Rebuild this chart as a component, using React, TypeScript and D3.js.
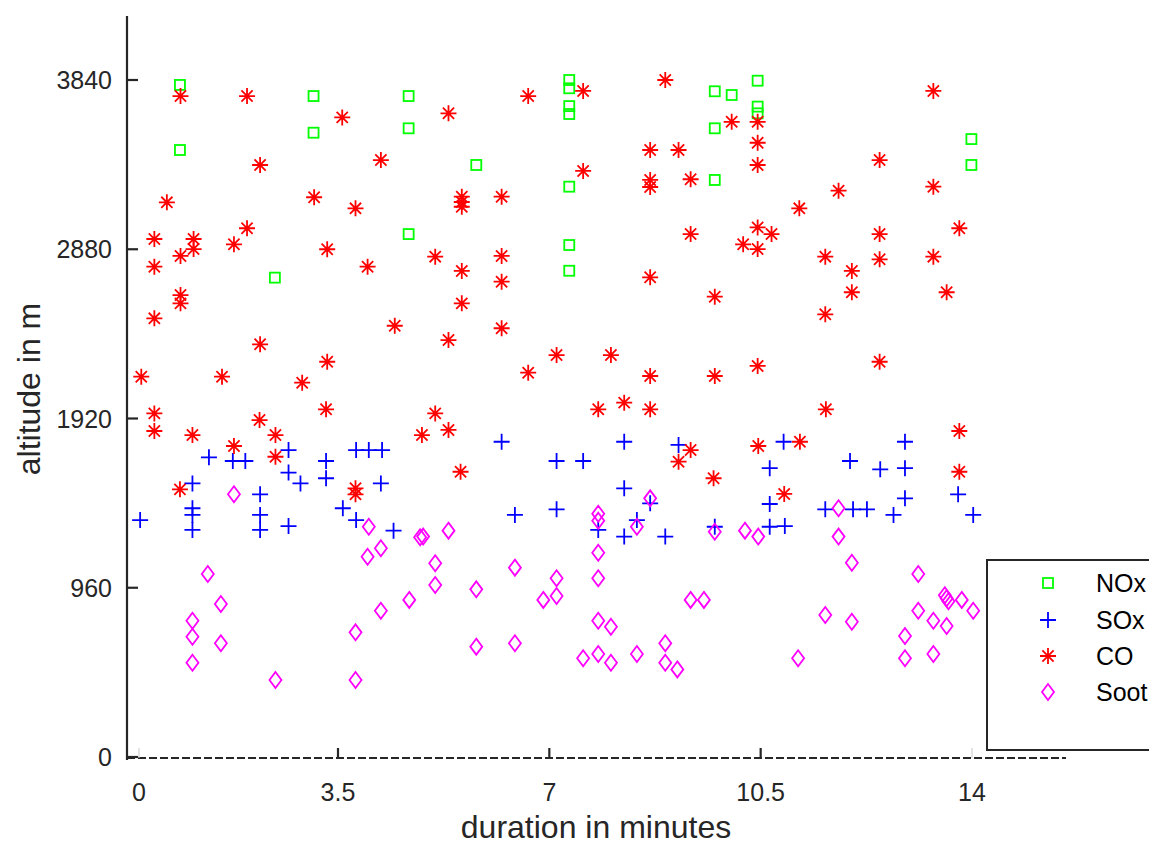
import React from "react";
import * as d3 from "d3";

const xTicks = [0, 3.5, 7, 10.5, 14];
const xTickLabels = ["0", "3.5", "7", "10.5", "14"];
const yTicks = [0, 960, 1920, 2880, 3840];
const yTickLabels = ["0", "960", "1920", "2880", "3840"];
const legendLabels = ["NOx", "SOx", "CO", "Soot"];

const noxX = [0.72, 0.72, 3.07, 3.07, 2.39, 4.67, 4.67, 4.67, 5.79, 7.33, 7.33, 7.33, 7.33, 7.33, 7.33, 7.33, 9.74, 9.74, 9.74, 10.02, 10.45, 10.45, 10.45, 13.99, 13.99];
const noxY = [3812, 3443, 3749, 3541, 2719, 3749, 3566, 2966, 3358, 3840, 3793, 3692, 3647, 3235, 2904, 2758, 3776, 3566, 3273, 3755, 3836, 3689, 3651, 3505, 3358];

const soxX = [0.02, 1.23, 0.94, 0.94, 0.94, 0.94, 1.65, 1.87, 2.13, 2.13, 2.13, 2.63, 2.63, 2.84, 2.63, 3.29, 3.29, 3.80, 4.01, 4.23, 4.21, 3.58, 3.80, 4.42, 6.21, 7.12, 7.56, 8.24, 9.14, 8.24, 8.67, 6.43, 7.12, 7.81, 8.45, 8.24, 8.92, 9.74, 10.88, 10.65, 10.65, 10.65, 10.90, 11.57, 11.98, 12.03, 12.26, 12.48, 12.70, 12.89, 12.89, 12.89, 13.77, 14.02];
const soxY = [1344, 1700, 1552, 1411, 1373, 1288, 1679, 1679, 1490, 1373, 1288, 1741, 1613, 1552, 1310, 1679, 1581, 1741, 1741, 1741, 1552, 1411, 1344, 1284, 1788, 1679, 1679, 1788, 1770, 1524, 1439, 1373, 1405, 1288, 1344, 1250, 1250, 1306, 1788, 1638, 1435, 1306, 1310, 1405, 1679, 1405, 1405, 1632, 1373, 1788, 1638, 1467, 1490, 1373];

const coX = [0.73, 1.90, 3.57, 2.13, 4.21, 0.49, 3.08, 3.79, 1.90, 0.27, 0.96, 0.96, 1.67, 0.73, 3.31, 0.27, 3.99, 0.73, 0.73, 0.27, 4.44, 2.13, 3.31, 0.04, 1.46, 2.87,
  5.33, 6.65, 7.56, 8.92, 8.67, 9.14, 7.56, 8.67, 8.67, 9.34, 5.55, 5.55, 5.55, 6.21, 9.34, 5.11, 6.21, 5.55, 6.21, 8.67, 5.55, 6.21, 5.33, 7.12, 8.02, 6.65, 8.67, 9.74, 9.74,
  13.36, 10.02, 10.45, 10.45, 10.45, 12.47, 13.36, 11.79, 11.14, 10.45, 10.68, 10.21, 10.45, 13.79, 12.47, 11.57, 12.47, 13.36, 12.01, 12.01, 13.58, 11.57, 12.47, 10.45,
  0.27, 0.27, 0.94, 2.12, 1.67, 2.40, 2.40, 3.29, 0.72, 3.79, 3.79, 4.89,
  5.11, 5.33, 5.53, 7.81, 8.24, 8.67, 9.34, 9.14, 9.72,
  11.58, 10.46, 11.15, 10.89, 13.79, 13.79];
const coY = [3749, 3749, 3628, 3358, 3386, 3146, 3175, 3112, 2999, 2938, 2938, 2881, 2908, 2842, 2880, 2781, 2781, 2620, 2573, 2488, 2446, 2341, 2242, 2157, 2157, 2123,
  3651, 3749, 3778, 3840, 3443, 3443, 3324, 3273, 3233, 3277, 3178, 3148, 3121, 3178, 2966, 2838, 2842, 2757, 2696, 2721, 2573, 2432, 2365, 2280, 2280, 2180, 2161, 2611, 2161,
  3778, 3603, 3603, 3484, 3358, 3386, 3235, 3212, 3112, 3004, 2966, 2908, 2881, 2999, 2966, 2838, 2823, 2838, 2757, 2636, 2636, 2511, 2242, 2218,
  1949, 1849, 1826, 1911, 1764, 1826, 1703, 1972, 1518, 1524, 1490, 1826,
  1949, 1855, 1618, 1972, 2010, 1972, 1741, 1675, 1581,
  1972, 1764, 1788, 1492, 1849, 1618];

const sootX = [1.67, 4.01, 4.21, 3.99, 4.86, 1.21, 1.44, 0.94, 0.94, 1.44, 0.94, 2.40, 3.79, 3.79, 4.21, 4.68,
  4.91, 5.33, 7.81, 7.81, 8.67, 8.45, 9.74, 5.11, 5.11, 6.43, 5.79, 7.12, 7.12, 6.90, 7.81, 7.81, 7.81, 8.02, 9.34, 9.56, 5.79, 6.43, 7.56, 7.81, 8.02, 8.45, 8.92, 8.92, 9.12,
  10.24, 10.46, 11.79, 11.79, 12.01, 13.11, 13.55, 13.58, 13.61, 13.83, 14.02, 13.11, 11.57, 12.01, 13.36, 13.58, 12.89, 13.36, 12.89, 11.12];
const sootY = [1490, 1306, 1184, 1136, 1246, 1038, 868, 773, 682, 645, 535, 437, 437, 707, 830, 891,
  1250, 1284, 1380, 1340, 1467, 1306, 1278, 1099, 976, 1074, 951, 1014, 913, 891, 1159, 1014, 773, 739, 891, 891, 626, 645, 560, 584, 535, 584, 645, 535, 497,
  1284, 1250, 1411, 1250, 1102, 1038, 917, 900, 883, 891, 830, 830, 805, 767, 773, 743, 686, 584, 560, 560];

const FONT = "'Liberation Sans', Arial, Helvetica, sans-serif";
const AX = "#262626";

const xScale = d3.scaleLinear().domain([0, 3.5, 14]).range([139, 338, 972]);
const yScale = d3.scaleLinear().domain([0, 3840]).range([757, 80]);

const SW = 1.8;

function Square({ x, y }: { x: number; y: number }) {
  return <rect x={x - 5} y={y - 5} width={10} height={10} fill="none" stroke="#00ff00" strokeWidth={SW} />;
}
function Plus({ x, y }: { x: number; y: number }) {
  const r = 8;
  return <path d={`M${x - r},${y}H${x + r}M${x},${y - r}V${y + r}`} stroke="#0000ff" strokeWidth={SW} fill="none" />;
}
function Star({ x, y }: { x: number; y: number }) {
  const r = 8, d = 5.6;
  return (
    <path
      d={`M${x - r},${y}H${x + r}M${x},${y - r}V${y + r}M${x - d},${y - d}L${x + d},${y + d}M${x - d},${y + d}L${x + d},${y - d}`}
      stroke="#ff0000" strokeWidth={SW} fill="none"
    />
  );
}
function Diamond({ x, y }: { x: number; y: number }) {
  return <path d={`M${x},${y - 8}L${x + 6},${y}L${x},${y + 8}L${x - 6},${y}Z`} stroke="#ff00ff" strokeWidth={SW} fill="none" />;
}

export default function App() {
  const xAxisY = 758;
  const yAxisX = 127;
  const legendX = 987, legendY = 560;
  const legendRows = [583, 620, 656, 692];
  return (
    <svg width={1149} height={846} style={{ position: "absolute", left: 0, top: 0, display: "block", background: "#fff" }}>
      <rect x={0} y={0} width={1149} height={846} fill="#fff" />
      {noxX.map((v, i) => <Square key={"n" + i} x={xScale(v)} y={yScale(noxY[i])} />)}
      {soxX.map((v, i) => <Plus key={"s" + i} x={xScale(v)} y={yScale(soxY[i])} />)}
      {coX.map((v, i) => <Star key={"c" + i} x={xScale(v)} y={yScale(coY[i])} />)}
      {sootX.map((v, i) => <Diamond key={"t" + i} x={xScale(v)} y={yScale(sootY[i])} />)}

      <line x1={yAxisX} y1={16} x2={yAxisX} y2={760} stroke={AX} strokeWidth={2.2} />
      <line x1={yAxisX} y1={xAxisY} x2={1066} y2={xAxisY} stroke={AX} strokeWidth={2.2} strokeDasharray="8,3" />
      {yTicks.map((t, i) => (
        <g key={"yt" + i}>
          <line x1={yAxisX} x2={yAxisX + 11} y1={yScale(t)} y2={yScale(t)} stroke={AX} strokeWidth={2.2} />
          <text x={112} y={yScale(t) + 9} textAnchor="end" fontFamily={FONT} fontSize={25} fill={AX}>{yTickLabels[i]}</text>
        </g>
      ))}
      {xTicks.map((t, i) => (
        <g key={"xt" + i}>
          <line x1={xScale(t)} x2={xScale(t)} y1={xAxisY} y2={xAxisY - 10}
            stroke={i === 0 || i === xTicks.length - 1 ? "#c8c8c8" : AX} strokeWidth={i === 0 || i === xTicks.length - 1 ? 1 : 2.2} />
          <text x={xScale(t)} y={801} textAnchor="middle" fontFamily={FONT} fontSize={25} fill={AX}>{xTickLabels[i]}</text>
        </g>
      ))}
      <text x={596} y={838} textAnchor="middle" fontFamily={FONT} fontSize={32} fill={AX}>duration in minutes</text>
      <text transform={`translate(40,389) rotate(-90)`} textAnchor="middle" fontFamily={FONT} fontSize={32} fill={AX}>altitude in m</text>

      <rect x={legendX} y={legendY} width={220} height={190} fill="#fff" stroke={AX} strokeWidth={2} />
      <Square x={1048} y={legendRows[0]} />
      <Plus x={1048} y={legendRows[1]} />
      <Star x={1048} y={legendRows[2]} />
      <Diamond x={1048} y={legendRows[3]} />
      {legendLabels.map((l, i) => (
        <text key={"l" + i} x={1096} y={legendRows[i] + 9} fontFamily={FONT} fontSize={25} fill="#000">{l}</text>
      ))}
    </svg>
  );
}
